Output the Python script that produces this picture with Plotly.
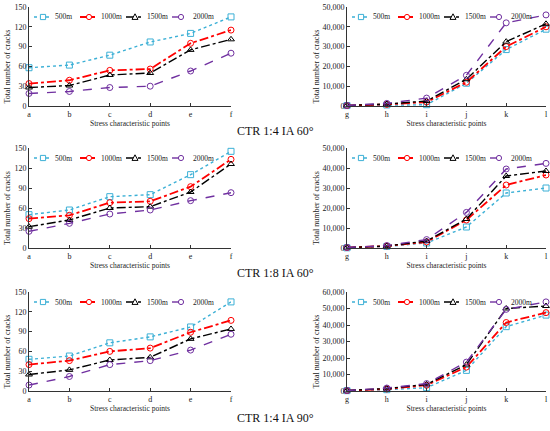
import plotly.graph_objects as go

W, H = 550, 431
FONT = "Liberation Serif, Times New Roman, serif"

POINTS_LEFT = ["a", "b", "c", "d", "e", "f"]
POINTS_RIGHT = ["g", "h", "i", "j", "k", "l"]
DEPTHS = ["500m", "1000m", "1500m", "2000m"]
CAPTIONS = ["CTR 1:4 IA 60°", "CTR 1:8 IA 60°", "CTR 1:4 IA 90°"]
Y_TITLE = "Total number of cracks"
X_TITLE = "Stress characteristic points"

# CTR 1:4 IA 60°, points a-f
c14_60_af_500 = [58, 62, 77, 97, 110, 135]
c14_60_af_1000 = [34, 39, 54, 56, 95, 115]
c14_60_af_1500 = [28, 31, 47, 50, 85, 101]
c14_60_af_2000 = [19, 22, 28, 30, 53, 80]
# CTR 1:4 IA 60°, points g-l
c14_60_gl_500 = [200, 500, 650, 11500, 28500, 38800]
c14_60_gl_1000 = [200, 800, 2000, 12000, 30000, 40000]
c14_60_gl_1500 = [300, 1000, 2500, 13500, 32500, 41500]
c14_60_gl_2000 = [300, 1300, 4000, 15500, 42000, 46000]

# CTR 1:8 IA 60°, points a-f
c18_60_af_500 = [50, 57, 77, 80, 110, 145]
c18_60_af_1000 = [44, 49, 68, 70, 92, 133]
c18_60_af_1500 = [32, 42, 60, 62, 84, 126]
c18_60_af_2000 = [25, 37, 51, 57, 71, 83]
# CTR 1:8 IA 60°, points g-l
c18_60_gl_500 = [100, 800, 2500, 10500, 27500, 30000]
c18_60_gl_1000 = [200, 1000, 3000, 14000, 31500, 36500]
c18_60_gl_1500 = [200, 1000, 3500, 14500, 36000, 38500]
c18_60_gl_2000 = [300, 1200, 4200, 17800, 39500, 42300]

# CTR 1:4 IA 90°, points a-f
c14_90_af_500 = [48, 53, 73, 82, 97, 135]
c14_90_af_1000 = [40, 46, 60, 65, 89, 107]
c14_90_af_1500 = [25, 32, 47, 51, 79, 94]
c14_90_af_2000 = [9, 22, 40, 46, 62, 86]
# CTR 1:4 IA 90°, points g-l
c14_90_gl_500 = [200, 800, 2000, 12500, 39000, 46000]
c14_90_gl_1000 = [200, 1200, 3500, 14500, 41500, 47500]
c14_90_gl_1500 = [300, 1500, 4000, 16000, 50000, 51500]
c14_90_gl_2000 = [300, 1800, 4500, 17500, 49500, 54000]

Y_MAX_LEFT = [150, 150, 150]
Y_MAX_RIGHT = [50000, 50000, 60000]

STYLE = {
    "500m": dict(color="#3cb0d6", dash="dot", width=1.4, symbol="square-open"),
    "1000m": dict(color="#ff0000", dash="dashdot", width=1.8, symbol="circle-open"),
    "1500m": dict(color="#000000", dash="dashdot", width=1.4, symbol="triangle-up-open"),
    "2000m": dict(color="#7030a0", dash="dash", width=1.4, symbol="circle-open"),
}

panels = [
    (POINTS_LEFT, [c14_60_af_500, c14_60_af_1000, c14_60_af_1500, c14_60_af_2000]),
    (POINTS_RIGHT, [c14_60_gl_500, c14_60_gl_1000, c14_60_gl_1500, c14_60_gl_2000]),
    (POINTS_LEFT, [c18_60_af_500, c18_60_af_1000, c18_60_af_1500, c18_60_af_2000]),
    (POINTS_RIGHT, [c18_60_gl_500, c18_60_gl_1000, c18_60_gl_1500, c18_60_gl_2000]),
    (POINTS_LEFT, [c14_90_af_500, c14_90_af_1000, c14_90_af_1500, c14_90_af_2000]),
    (POINTS_RIGHT, [c14_90_gl_500, c14_90_gl_1000, c14_90_gl_1500, c14_90_gl_2000]),
]

# plot areas in pixels: (left, right) and (top, bottom)
X_PX = [(29, 231), (347, 546)]
Y_PX = [(7, 106), (148, 248), (292, 391)]
Y_TITLE_X = [7, 316]
CAPTION_Y = [131, 273, 418]


def px_x(p):
    return p / W


def px_y(p):
    return 1 - p / H


def legend_shapes(x_left, y_top):
    """Compact legend row drawn as shapes, like the Excel one (Plotly's is too wide)."""
    shapes, notes = [], []
    yc = px_y(y_top + 10)
    for k, name in enumerate(DEPTHS):
        st = STYLE[name]
        xs = x_left + 5 + k * 46
        shapes.append(dict(type="line", xref="paper", yref="paper",
                           x0=px_x(xs), x1=px_x(xs + 18), y0=yc, y1=yc,
                           line=dict(color=st["color"], width=st["width"], dash=st["dash"])))
        cx, r = xs + 9, 2.6
        box = dict(xref="paper", yref="paper", fillcolor="white",
                   line=dict(color=st["color"], width=1))
        if st["symbol"].startswith("square"):
            shapes.append(dict(type="rect", x0=px_x(cx - r), x1=px_x(cx + r),
                               y0=yc - r / H, y1=yc + r / H, **box))
        elif st["symbol"].startswith("circle"):
            shapes.append(dict(type="circle", x0=px_x(cx - r), x1=px_x(cx + r),
                               y0=yc - r / H, y1=yc + r / H, **box))
        else:
            path = (f"M {px_x(cx)},{yc + 3.2 / H} L {px_x(cx - 3)},{yc - 2.4 / H} "
                    f"L {px_x(cx + 3)},{yc - 2.4 / H} Z")
            shapes.append(dict(type="path", path=path, **box))
        notes.append(dict(text=name, xref="paper", yref="paper", x=px_x(xs + 19), y=yc,
                          xanchor="left", yanchor="middle", showarrow=False,
                          font=dict(family=FONT, size=7.5, color="#222")))
    return shapes, notes


fig = go.Figure()
layout = {}
shapes, annotations = [], []

for idx, (cats, series) in enumerate(panels):
    row, col = divmod(idx, 2)
    n = idx + 1
    xa = "x" if n == 1 else f"x{n}"
    ya = "y" if n == 1 else f"y{n}"
    for name, vals in zip(DEPTHS, series):
        st = STYLE[name]
        fig.add_trace(go.Scatter(
            x=cats, y=vals, xaxis=xa, yaxis=ya, name=name,
            mode="lines+markers", cliponaxis=False, showlegend=False,
            line=dict(color=st["color"], width=st["width"], dash=st["dash"]),
            marker=dict(symbol=st["symbol"], size=6, color=st["color"],
                        line=dict(width=1, color=st["color"])),
        ))

    x0, x1 = X_PX[col]
    y0, y1 = Y_PX[row]
    ymax = Y_MAX_LEFT[row] if col == 0 else Y_MAX_RIGHT[row]
    dtick = 30 if col == 0 else 10000
    suffix = "" if n == 1 else str(n)
    layout["xaxis" + suffix] = dict(
        domain=[px_x(x0), px_x(x1)], anchor=ya, type="category", range=[0, 5],
        showline=True, linecolor="#333", linewidth=1, showgrid=False, zeroline=False,
        ticks="inside", ticklen=3, tickcolor="#333",
        tickfont=dict(family=FONT, size=8, color="#222"),
        title=dict(text=X_TITLE, standoff=3,
                   font=dict(family=FONT, size=7.5, color="#222")),
        automargin=False, fixedrange=True,
    )
    layout["yaxis" + suffix] = dict(
        domain=[px_y(y1), px_y(y0)], anchor=xa, range=[0, ymax], dtick=dtick,
        tickformat=",", showline=True, linecolor="#333", linewidth=1,
        showgrid=False, zeroline=False, ticks="inside", ticklen=3, tickcolor="#333",
        tickfont=dict(family=FONT, size=8, color="#222"),
        automargin=False, fixedrange=True,
    )
    # Excel centres the value-axis title on the whole chart box, a bit below the plot middle
    annotations.append(dict(text=Y_TITLE, textangle=-90, xref="paper", yref="paper",
                            x=px_x(Y_TITLE_X[col]), y=px_y((y0 + y1) / 2 + 10),
                            xanchor="center", yanchor="middle", showarrow=False,
                            font=dict(family=FONT, size=8, color="#222")))
    s, a = legend_shapes(x0, y0)
    shapes += s
    annotations += a

for text, yc in zip(CAPTIONS, CAPTION_Y):
    annotations.append(dict(text=text, xref="paper", yref="paper", x=0.5, y=px_y(yc),
                            xanchor="center", yanchor="middle", showarrow=False,
                            font=dict(family=FONT, size=12, color="#111")))

fig.update_layout(
    width=W, height=H,
    margin=dict(l=0, r=0, t=0, b=0),
    paper_bgcolor="white", plot_bgcolor="white",
    showlegend=False, shapes=shapes, annotations=annotations,
    **layout,
)

# the page body has an 8px default margin, which would push the figure off the window
fig.write_html("out.html", config={"displayModeBar": False},
               post_script="document.body.style.margin='0';")
